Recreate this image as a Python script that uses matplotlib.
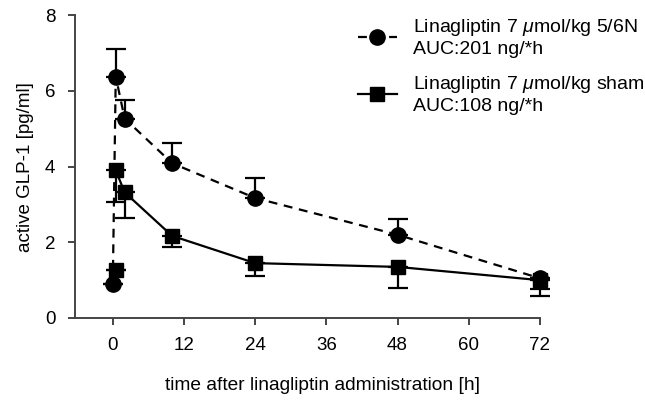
import matplotlib
matplotlib.use("Agg")
import matplotlib.pyplot as plt
from matplotlib.lines import Line2D

plt.rcParams["font.family"] = ["Liberation Sans", "DejaVu Sans"]
plt.rcParams["mathtext.fontset"] = "custom"
plt.rcParams["mathtext.it"] = "Liberation Sans:italic"

# time points [h]
time_h = [0, 0.5, 2, 10, 24, 48, 72]

# 5/6N (circles, dashed)
nx_mean = [0.89, 6.38, 5.27, 4.09, 3.17, 2.2, 1.05]
nx_err_lo = [0, 0, 0, 0, 0, 0, 0.29]
nx_err_hi = [0, 0.72, 0.48, 0.54, 0.53, 0.42, 0]

# sham (squares, solid)
sham_time = [0.5, 0.5, 2, 10, 24, 48, 72]
sham_mean = [1.27, 3.9, 3.32, 2.17, 1.45, 1.35, 1.0]
sham_err_lo = [0, 0.83, 0.69, 0.29, 0.35, 0.55, 0.42]
sham_err_hi = [0, 0, 0, 0, 0, 0, 0]

label_nx = "Linagliptin 7 $\\mathit{\\mu}$mol/kg 5/6N\nAUC:201 ng/*h"
label_sham = "Linagliptin 7 $\\mathit{\\mu}$mol/kg sham\nAUC:108 ng/*h"

DASH = (0, (4, 3))
fig = plt.figure(figsize=(6.45, 4.0), dpi=100)
ax = fig.add_axes([0.116, 0.205, 0.721, 0.757])

ax.plot(time_h, nx_mean, color="black", ls=DASH, lw=1.6, zorder=2)
ax.errorbar(time_h, nx_mean, yerr=[nx_err_lo, nx_err_hi], color="black", ls="none",
            marker="o", ms=11, capsize=7, elinewidth=1.6, capthick=1.6,
            clip_on=False, zorder=3)
# sham line starts at the second sample (first segment not drawn in the original)
ax.plot(sham_time[1:], sham_mean[1:], color="black", ls="-", lw=1.6, zorder=2)
ax.errorbar(sham_time, sham_mean, yerr=[sham_err_lo, sham_err_hi], color="black",
            ls="none", marker="s", ms=10.5, capsize=7, elinewidth=1.6, capthick=1.6,
            clip_on=False, zorder=3)

ax.set_xlim(-6.4, 72)
ax.set_ylim(0, 8)
ax.set_xticks(range(0, 73, 12))
ax.set_yticks([0, 2, 4, 6, 8])
for s in ("top", "right"):
    ax.spines[s].set_visible(False)
for s in ("left", "bottom"):
    ax.spines[s].set_color("#444444")
    ax.spines[s].set_linewidth(1.4)
ax.tick_params(direction="out", length=5, width=1.4, color="#444444",
               labelsize=13.5, pad=9)
ax.set_xlabel("time after linagliptin administration [h]", fontsize=13.8)
ax.xaxis.set_label_coords(0.533, -0.195)
ax.set_ylabel("active GLP-1 [pg/ml]", fontsize=13.5, labelpad=8)

handles = [
    Line2D([], [], color="black", ls=DASH, lw=1.6, marker="o", ms=11),
    Line2D([], [], color="black", ls="-", lw=1.6, marker="s", ms=10.5),
]
ax.legend(handles, [label_nx, label_sham], loc="upper left",
          bbox_to_anchor=(358 / 645, 1 - 17 / 400), bbox_transform=fig.transFigure,
          frameon=False, fontsize=14, handlelength=2.0, labelspacing=0.85,
          handletextpad=0.85, borderpad=0, borderaxespad=0)

fig.savefig("out.png", dpi=100)
